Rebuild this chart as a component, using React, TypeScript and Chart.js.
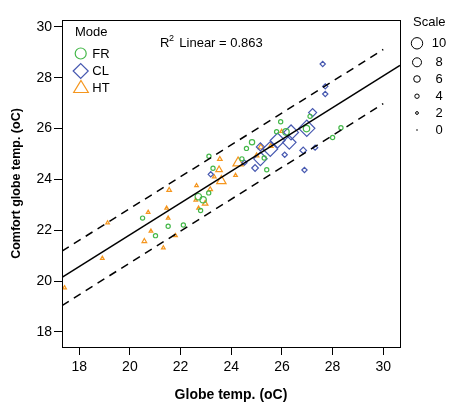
import React, { useEffect, useRef } from "react";
import { Chart, registerables } from "chart.js";
Chart.register(...registerables);

// ---- data ----
const xTicks = [18, 20, 22, 24, 26, 28, 30];
const yTicks = [18, 20, 22, 24, 26, 28, 30];

// FR (green circles)
const frX = [20.5, 21.01, 21.51, 22.11, 22.7, 22.89, 22.79, 23.11, 23.12, 23.28, 24.42, 24.6, 24.82, 25.3, 25.4, 25.79, 25.95, 26.16, 27.11, 26.97, 28.0, 28.33];
const frY = [22.48, 21.79, 22.16, 22.21, 23.32, 23.2, 22.78, 23.47, 24.91, 24.44, 24.81, 25.22, 25.46, 24.84, 24.38, 25.88, 26.27, 25.87, 26.48, 26.0, 25.65, 26.03];
const frScale = [2, 2, 2, 2, 4, 4, 2, 2, 2, 2, 2, 2, 3, 2, 2, 2, 2, 4, 2, 4, 2, 2];

// CL (blue diamonds)
const clX = [23.19, 24.52, 24.94, 25.15, 25.15, 25.54, 25.83, 26.11, 26.29, 26.36, 26.84, 26.89, 26.98, 27.21, 27.31, 27.61, 27.71, 27.71];
const clY = [24.2, 24.66, 24.45, 25.28, 24.81, 25.2, 25.53, 24.97, 25.46, 25.85, 25.14, 24.37, 26.01, 26.63, 25.25, 28.54, 27.66, 27.36];
const clScale = [2, 2, 3, 4, 8, 9, 9, 2, 8, 9, 3, 2, 10, 4, 2, 2, 2, 2];

// HT (orange triangles)
const htX = [17.42, 18.91, 19.12, 20.72, 20.83, 20.57, 21.32, 21.45, 21.51, 21.55, 21.8, 22.63, 22.6, 22.71, 22.97, 23.17, 23.33, 23.52, 23.61, 23.55, 24.17, 24.27, 25.0, 25.17, 25.56, 25.99];
const htY = [19.74, 20.9, 22.29, 22.71, 21.97, 21.57, 21.31, 22.87, 22.48, 23.58, 21.79, 23.76, 23.19, 22.87, 23.05, 23.61, 24.1, 24.38, 23.94, 24.8, 24.16, 24.65, 24.94, 25.27, 25.31, 25.89];
const htScale = [2, 2, 2, 2, 2, 3, 2, 2, 2, 3, 2, 2, 2, 2, 4, 3, 2, 5, 8, 3, 2, 9, 3, 4, 3, 2];

// fit line and prediction bounds
const fitX = [17.32, 30.66];
const fitY = [20.15, 28.49];
const upperX = [17.32, 30.0];
const upperY = [21.18, 29.11];
const lowerX = [17.32, 30.0];
const lowerY = [19.04, 26.98];

const modeLabels = ["FR", "CL", "HT"];
const scaleLabels = ["10", "8", "6", "4", "2", "0"];
const r2Value = "0.863";

const GREEN = "#45b84a";
const BLUE = "#4658b0";
const ORANGE = "#f5961e";
const FONT = '"Liberation Sans", Arial, sans-serif';

const rad = (s: number) => 1 + 0.55 * s;

const pts = (xs: number[], ys: number[]) => xs.map((x, i) => ({ x, y: ys[i] }));

const overlay = {
  id: "overlay",
  afterDraw(chart: any) {
    const { ctx, chartArea: a } = chart;
    ctx.save();
    ctx.strokeStyle = "#000";
    ctx.lineWidth = 1;
    ctx.strokeRect(Math.round(a.left) + 0.5, Math.round(a.top) + 0.5, Math.round(a.right - a.left), Math.round(a.bottom - a.top));

    // Mode legend
    const L = a.left;
    const T = a.top;
    ctx.fillStyle = "#000";
    ctx.textBaseline = "middle";
    ctx.textAlign = "left";
    ctx.font = "13px " + FONT;
    ctx.fillText("Mode", L + 13, T + 12);
    const rows = [T + 33.5, T + 51, T + 68];
    const cx = L + 18.7;
    ctx.lineWidth = 1.2;
    // circle
    ctx.strokeStyle = GREEN;
    ctx.beginPath();
    ctx.arc(cx, rows[0], 5.5, 0, Math.PI * 2);
    ctx.stroke();
    // diamond
    ctx.strokeStyle = BLUE;
    ctx.beginPath();
    ctx.moveTo(cx - 7.5, rows[1]);
    ctx.lineTo(cx, rows[1] - 7.5);
    ctx.lineTo(cx + 7.5, rows[1]);
    ctx.lineTo(cx, rows[1] + 7.5);
    ctx.closePath();
    ctx.stroke();
    // triangle
    ctx.strokeStyle = ORANGE;
    ctx.beginPath();
    ctx.moveTo(cx + 0.3, rows[2] - 7.5);
    ctx.lineTo(cx + 7.6, rows[2] + 4.5);
    ctx.lineTo(cx - 7.0, rows[2] + 4.5);
    ctx.closePath();
    ctx.stroke();
    ctx.fillStyle = "#000";
    modeLabels.forEach((t, i) => ctx.fillText(t, L + 30.3, rows[i] + 0.5));

    // R2 text
    ctx.fillText("R", L + 98, T + 23);
    ctx.font = "9px " + FONT;
    ctx.fillText("2", L + 107, T + 18.5);
    ctx.font = "13px " + FONT;
    ctx.fillText("Linear = " + r2Value, L + 117.3, T + 23);

    // Scale legend
    const R = a.right;
    ctx.fillText("Scale", R + 13, T + 2);
    const sy = [T + 23.3, T + 42.3, T + 59, T + 76.2, T + 93, T + 110];
    const sr = [5.7, 4.5, 3.3, 2.2, 1.4, 0.8];
    ctx.strokeStyle = "#000";
    ctx.lineWidth = 1;
    ctx.textAlign = "center";
    scaleLabels.forEach((t, i) => {
      ctx.beginPath();
      ctx.arc(R + 17, sy[i], sr[i], 0, Math.PI * 2);
      if (i === scaleLabels.length - 1) ctx.fill();
      else ctx.stroke();
      ctx.fillText(t, R + 39, sy[i] + 0.5);
    });
    ctx.restore();
  },
};

export default function App() {
  const ref = useRef<HTMLCanvasElement>(null);
  useEffect(() => {
    document.body.style.margin = "0";
    const canvas = ref.current!;
    const tickFont = { family: FONT, size: 14 };
    const chart = new Chart(canvas, {
      type: "scatter",
      data: {
        datasets: [
          {
            label: "Fit",
            data: pts(fitX, fitY),
            showLine: true,
            borderColor: "#000",
            borderWidth: 1.5,
            pointRadius: 0,
          },
          {
            label: "Upper",
            data: pts(upperX, upperY),
            showLine: true,
            borderColor: "#000",
            borderWidth: 1.5,
            borderDash: [8, 6],
            pointRadius: 0,
          },
          {
            label: "Lower",
            data: pts(lowerX, lowerY),
            showLine: true,
            borderColor: "#000",
            borderWidth: 1.5,
            borderDash: [8, 6],
            pointRadius: 0,
          },
          {
            label: "FR",
            data: pts(frX, frY),
            pointStyle: "circle",
            pointRadius: frScale.map(rad),
            borderColor: GREEN,
            backgroundColor: "rgba(0,0,0,0)",
            pointBorderWidth: 1.2,
          },
          {
            label: "CL",
            data: pts(clX, clY),
            pointStyle: "rectRot",
            pointRadius: clScale.map((s) => rad(s) * 1.25),
            borderColor: BLUE,
            backgroundColor: "rgba(0,0,0,0)",
            pointBorderWidth: 1.2,
          },
          {
            label: "HT",
            data: pts(htX, htY),
            pointStyle: "triangle",
            pointRadius: htScale.map(rad),
            borderColor: ORANGE,
            backgroundColor: "rgba(0,0,0,0)",
            pointBorderWidth: 1.2,
          },
        ],
      },
      options: {
        animation: false,
        responsive: false,
        maintainAspectRatio: false,
        events: [],
        layout: { padding: { left: 0, top: 20, right: 51, bottom: 0 } },
        plugins: { legend: { display: false }, tooltip: { enabled: false } },
        scales: {
          x: {
            type: "linear",
            min: 17.32,
            max: 30.66,
            afterBuildTicks: (s: any) => {
              s.ticks = xTicks.map((v) => ({ value: v }));
            },
            afterFit: (s: any) => {
              s.height = 55;
            },
            grid: { drawOnChartArea: false, drawTicks: true, tickLength: 8, color: "#000", tickWidth: 1 },
            border: { display: false },
            ticks: { color: "#000", font: tickFont, padding: 4, maxRotation: 0 },
            title: {
              display: true,
              text: "Globe temp. (oC)",
              color: "#000",
              font: { family: FONT, size: 14, weight: "bold", lineHeight: 1 },
              padding: { top: 0, bottom: 0 },
            },
          },
          y: {
            type: "linear",
            min: 17.41,
            max: 30.27,
            afterBuildTicks: (s: any) => {
              s.ticks = yTicks.map((v) => ({ value: v }));
            },
            afterFit: (s: any) => {
              s.width = 62;
            },
            grid: { drawOnChartArea: false, drawTicks: true, tickLength: 8, color: "#000", tickWidth: 1 },
            border: { display: false },
            ticks: { color: "#000", font: tickFont, padding: 2 },
            title: {
              display: true,
              text: "Comfort globe temp. (oC)",
              color: "#000",
              font: { family: FONT, size: 12.5, weight: "bold", lineHeight: 1 },
              padding: { top: 10.5, bottom: 0 },
            },
          },
        },
      },
      plugins: [overlay],
    } as any);
    return () => chart.destroy();
  }, []);
  return (
    <div style={{ width: 451, height: 402 }}>
      <canvas ref={ref} width={451} height={402} />
    </div>
  );
}
